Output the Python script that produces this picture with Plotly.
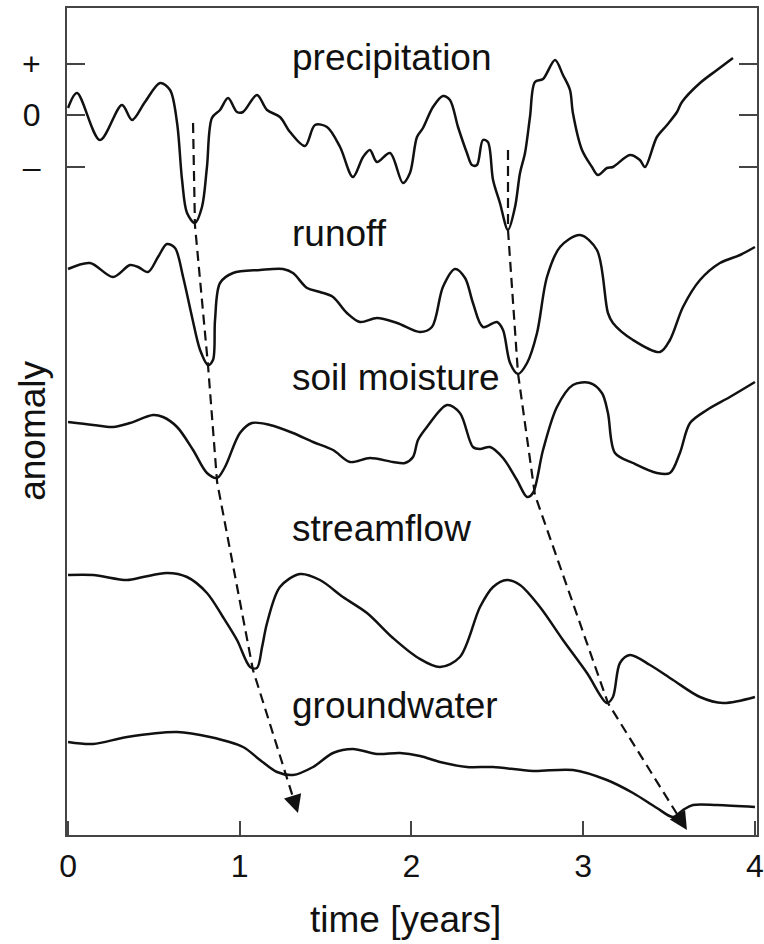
import plotly.graph_objects as go

# ---- data (time in years, anomaly in chart units) ----
prec_t = [0.000,0.052,0.186,0.314,0.373,0.448,0.536,0.594,0.635,0.664,0.693,0.739,0.780,0.809,0.838,0.885,0.932,0.984,1.019,1.100,1.159,1.234,1.293,1.380,1.438,1.508,1.584,1.659,1.718,1.758,1.799,1.875,1.950,1.991,2.032,2.067,2.125,2.183,2.224,2.271,2.323,2.352,2.381,2.416,2.445,2.475,2.515,2.562,2.603,2.632,2.661,2.690,2.719,2.766,2.836,2.882,2.923,2.940,2.993,3.051,3.086,3.138,3.173,3.272,3.330,3.360,3.429,3.488,3.546,3.575,3.680,3.779,3.872]
prec_a = [7,22,-25,10,-5,13,32,25,-8,-65,-98,-108,-92,-52,-3,5,17,3,3,20,5,-2,-17,-31,-10,-12,-32,-62,-42,-35,-47,-38,-68,-58,-22,-13,8,19,15,-12,-38,-50,-50,-25,-27,-65,-88,-115,-92,-58,-38,-2,33,36,55,40,25,2,-35,-52,-60,-53,-52,-40,-45,-52,-22,-10,3,13,32,45,57]

run_t = [0.0,0.128,0.262,0.361,0.408,0.466,0.524,0.576,0.623,0.670,0.722,0.769,0.815,0.844,0.856,0.885,0.961,1.118,1.252,1.310,1.392,1.467,1.543,1.624,1.700,1.799,1.916,2.050,2.119,2.183,2.253,2.312,2.358,2.416,2.498,2.533,2.574,2.620,2.673,2.731,2.789,2.865,2.981,3.080,3.144,3.173,3.290,3.447,3.505,3.581,3.680,3.796,3.913,4.0]
run_a = [-1,5,-9,3,1,-4,11,24,20,-9,-49,-82,-97,-92,-52,-15,-5,-2,-1,-5,-20,-24,-29,-45,-54,-50,-55,-64,-59,-19,-1,-10,-35,-59,-54,-62,-95,-106,-95,-65,-9,21,33,18,-45,-55,-72,-84,-72,-39,-12,5,13,21]

soil_t = [0.0,0.146,0.262,0.361,0.495,0.553,0.635,0.728,0.809,0.868,0.914,1.001,1.071,1.176,1.310,1.427,1.543,1.642,1.758,1.892,1.962,2.009,2.038,2.090,2.207,2.282,2.358,2.399,2.457,2.533,2.614,2.673,2.707,2.766,2.847,2.940,3.039,3.109,3.144,3.185,3.290,3.429,3.505,3.563,3.622,3.720,3.854,4.0]
soil_a = [0,-3,-5,-1,7,5,-5,-28,-51,-56,-45,-11,-1,-3,-11,-20,-28,-40,-36,-40,-41,-35,-18,-5,17,9,-25,-27,-25,-36,-58,-75,-71,-28,15,37,39,29,9,-31,-41,-51,-51,-31,-1,12,25,40]

str_t = [0.0,0.146,0.344,0.437,0.576,0.693,0.809,0.902,0.984,1.060,1.100,1.130,1.159,1.234,1.351,1.467,1.601,1.741,1.892,2.040,2.166,2.282,2.399,2.475,2.556,2.632,2.748,2.882,3.022,3.138,3.173,3.214,3.272,3.389,3.523,3.680,3.814,4.0]
str_a = [1,1,-4,-1,3,-1,-17,-41,-64,-91,-92,-71,-47,-11,2,-4,-21,-37,-62,-82,-91,-81,-31,-11,-4,-9,-31,-64,-97,-127,-121,-87,-79,-89,-104,-121,-127,-121]

gw_t = [0.0,0.146,0.344,0.635,0.827,1.019,1.118,1.217,1.310,1.427,1.543,1.659,1.799,1.933,2.050,2.166,2.323,2.475,2.707,2.940,3.138,3.290,3.429,3.523,3.581,3.639,3.779,4.0]
gw_a = [1,-1,6,11,6,-4,-17,-29,-32,-24,-10,-6,-11,-10,-13,-19,-24,-24,-28,-27,-37,-50,-65,-74,-67,-62,-62,-64]

series_names = ["precipitation", "runoff", "soil moisture", "streamflow", "groundwater"]
series_offsets = [0, -153, -307, -461, -628]

# dashed propagation paths (time, chart y)
arrow1_t = [0.728, 0.739, 0.815, 0.868, 1.077, 1.339]
arrow1_y = [-8, -110, -250, -367, -555, -698]
arrow2_t = [2.562, 2.562, 2.620, 2.719, 3.144, 3.604]
arrow2_y = [-35, -115, -258, -380, -588, -715]

y_tick_vals = [51.5, 0, -51.5]
y_tick_text = ["+", "0", "\u2013"]
x_tick_vals = [0, 1, 2, 3, 4]
x_tick_text = ["0", "1", "2", "3", "4"]

label_t = 1.293
label_y = [58, -118, -262, -413, -590]

FONT = "Liberation Sans, Arial, Helvetica, sans-serif"
INK = "#111111"

fig = go.Figure()
all_t = [prec_t, run_t, soil_t, str_t, gw_t]
all_a = [prec_a, run_a, soil_a, str_a, gw_a]
for t, a, off in zip(all_t, all_a, series_offsets):
    fig.add_trace(go.Scatter(x=t, y=[v + off for v in a], mode="lines",
                             line=dict(color=INK, width=2.5, shape="spline", smoothing=0.9),
                             hoverinfo="skip", showlegend=False))

for at, ay in [(arrow1_t, arrow1_y), (arrow2_t, arrow2_y)]:
    bt = at[-1] - 0.12 * (at[-1] - at[-2])
    by = ay[-1] - 0.12 * (ay[-1] - ay[-2])
    fig.add_trace(go.Scatter(x=at[:-1] + [bt], y=ay[:-1] + [by], mode="lines",
                             line=dict(color=INK, width=2.2, dash="10px,6px"),
                             hoverinfo="skip", showlegend=False))
    fig.add_annotation(x=at[-1], y=ay[-1], ax=bt, ay=by, xref="x", yref="y",
                       axref="x", ayref="y", showarrow=True, arrowhead=2,
                       arrowsize=1.8, arrowwidth=2, arrowcolor=INK, text="")

for name, ly in zip(series_names, label_y):
    fig.add_annotation(x=label_t, y=ly, xref="x", yref="y", text=name,
                       showarrow=False, xanchor="left", yanchor="middle",
                       font=dict(family=FONT, size=37, color=INK))

fig.add_annotation(x=0.49, y=-0.102, xref="paper", yref="paper", text="time [years]",
                   showarrow=False, xanchor="center", yanchor="middle",
                   font=dict(family=FONT, size=37, color=INK))
fig.add_annotation(x=-0.051, y=0.4885, xref="paper", yref="paper", text="anomaly",
                   showarrow=False, textangle=-90, xanchor="center", yanchor="middle",
                   font=dict(family=FONT, size=37, color=INK))

fig.update_xaxes(range=[-0.006, 4.012], tickvals=x_tick_vals, ticktext=x_tick_text,
                 ticks="inside", ticklen=14, tickwidth=1.5, tickcolor="#444",
                 showline=True, linecolor="#444", linewidth=2, mirror=True,
                 showgrid=False, zeroline=False, ticklabelstandoff=2,
                 tickfont=dict(family=FONT, size=32, color=INK))
fig.update_yaxes(range=[-720, 107], tickvals=y_tick_vals, ticktext=y_tick_text,
                 ticks="inside", ticklen=18, tickwidth=1.5, tickcolor="#444",
                 showline=True, linecolor="#444", linewidth=2, mirror="allticks",
                 showgrid=False, zeroline=False, ticklabelstandoff=18,
                 tickfont=dict(family=FONT, size=32, color=INK))

fig.update_layout(width=764, height=944, margin=dict(l=67, r=7, t=8, b=109, autoexpand=False),
                  paper_bgcolor="white", plot_bgcolor="white", showlegend=False)

fig.write_html("out.html", config={"displayModeBar": False},
               post_script="document.body.style.margin='0px';document.body.style.padding='0px';")
